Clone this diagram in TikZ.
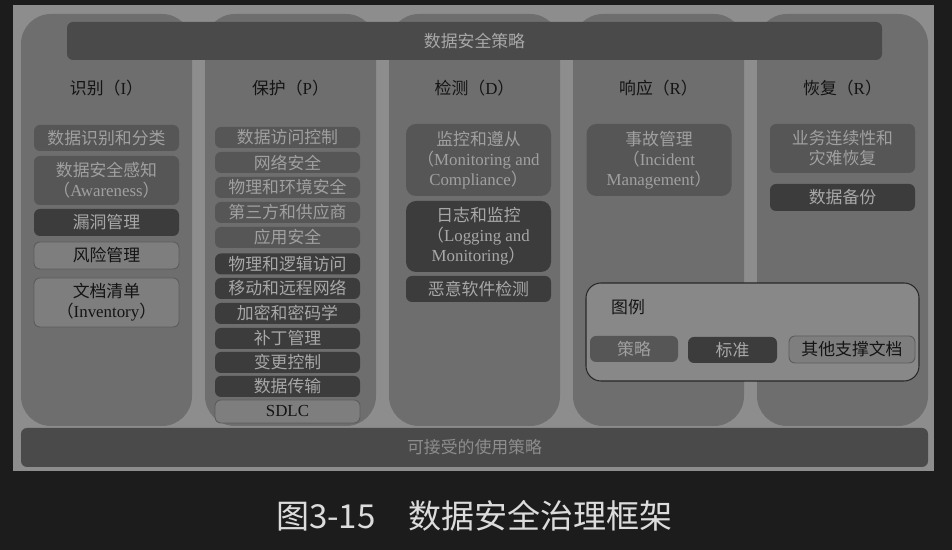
\documentclass[tikz,border=0pt]{standalone}
\usepackage{fontspec}
\setmainfont{Noto Sans CJK SC}
\newfontfamily\latin{Liberation Serif}
\usetikzlibrary{positioning}
\definecolor{dgback}{RGB}{28,28,28}
\definecolor{dgpanel}{RGB}{141,141,141}
\definecolor{dgcolumn}{RGB}{110,110,110}
\definecolor{dgbarfill}{RGB}{74,74,74}
\definecolor{dgpolfill}{RGB}{86,86,86}
\definecolor{dgpoltext}{RGB}{160,160,160}
\definecolor{dgstdfill}{RGB}{60,60,60}
\definecolor{dgstdtext}{RGB}{168,168,168}
\definecolor{dgdocfill}{RGB}{126,126,126}
\definecolor{dgdocline}{RGB}{92,92,92}
\definecolor{dgdoctext}{RGB}{20,20,20}
\definecolor{dglegfill}{RGB}{136,136,136}
\definecolor{dglegline}{RGB}{40,40,40}
\definecolor{dgcaption}{RGB}{220,220,220}
\newcommand\dgfont{\fontsize{9.6}{11.4}\selectfont}
\tikzset{
  dgcol/.style   ={rectangle, rounded corners=0.6cm, fill=dgcolumn, inner sep=0pt,
                   minimum width=3.42cm, minimum height=8.24cm},
  dgbar/.style   ={rectangle, rounded corners=0.12cm, fill=dgbarfill, inner sep=0pt,
                   font=\dgfont},
  dghead/.style  ={font=\dgfont, text=dgdoctext},
  dgitem/.style  ={rectangle, rounded corners=0.12cm, inner sep=0pt, align=center,
                   minimum width=2.9cm, font=\dgfont},
  dgpol/.style   ={dgitem, fill=dgpolfill, text=dgpoltext},
  dgstd/.style   ={dgitem, fill=dgstdfill, text=dgstdtext},
  dgdoc/.style   ={dgitem, fill=dgdocfill, draw=dgdocline, line width=0.5pt, text=dgdoctext},
  dgtall/.style  ={rounded corners=0.2cm},
  dgsmall/.style ={minimum height=0.42cm},
  dglegend/.style={rectangle, rounded corners=0.3cm, fill=dglegfill, draw=dglegline,
                   line width=0.6pt, minimum width=6.66cm, minimum height=1.96cm},
  dgcap/.style   ={font=\fontsize{18.8}{22}\selectfont, text=dgcaption},
}
\begin{document}
\begin{tikzpicture}
    \useasboundingbox (0,0) rectangle (19.04,11);
    \fill[dgback] (0,0) rectangle (19.04,11);
    \fill[dgpanel] (0.26,1.58) rectangle (18.68,10.90);
    \node[dgcol] (colI) at (2.13,6.60)  {};
    \node[dgcol] (colP) at (5.81,6.60)  {};
    \node[dgcol] (colD) at (9.49,6.60)  {};
    \node[dgcol] (colR) at (13.17,6.60) {};
    \node[dgcol] (colC) at (16.85,6.60) {};
    \node[dgbar, minimum width=16.30cm, minimum height=0.76cm, text=dgstdtext] (policy) at (9.49,10.18) {数据安全策略};
    \node[dgbar, minimum width=18.14cm, minimum height=0.78cm, text=dgpanel] (usage) at (9.49,2.05) {可接受的使用策略};
    \node[dghead] (headI) at (2.13,9.24)  {识别（{\latin I}）};
    \node[dghead] (headP) at (5.81,9.24)  {保护（{\latin P}）};
    \node[dghead] (headD) at (9.49,9.24)  {检测（{\latin D}）};
    \node[dghead] (headR) at (13.17,9.24) {响应（{\latin R}）};
    \node[dghead] (headC) at (16.85,9.24) {恢复（{\latin R}）};
    \node[dgpol, minimum height=0.52cm] (i1) at (2.13,8.24) {数据识别和分类};
    \node[dgpol, minimum height=0.98cm] (i2) at (2.13,7.39) {数据安全感知\\（{\latin Awareness}）};
    \node[dgstd, minimum height=0.54cm] (i3) at (2.13,6.55) {漏洞管理};
    \node[dgdoc, minimum height=0.54cm] (i4) at (2.13,5.89) {风险管理};
    \node[dgdoc, minimum height=0.98cm] (i5) at (2.13,4.95) {文档清单\\（{\latin Inventory}）};
    \node[dgpol, dgsmall] (p1)  at (5.75,8.25) {数据访问控制};
    \node[dgpol, dgsmall] (p2)  at (5.75,7.75) {网络安全};
    \node[dgpol, dgsmall] (p3)  at (5.75,7.25) {物理和环境安全};
    \node[dgpol, dgsmall] (p4)  at (5.75,6.75) {第三方和供应商};
    \node[dgpol, dgsmall] (p5)  at (5.75,6.25) {应用安全};
    \node[dgstd, dgsmall] (p6)  at (5.75,5.72) {物理和逻辑访问};
    \node[dgstd, dgsmall] (p7)  at (5.75,5.23) {移动和远程网络};
    \node[dgstd, dgsmall] (p8)  at (5.75,4.73) {加密和密码学};
    \node[dgstd, dgsmall] (p9)  at (5.75,4.23) {补丁管理};
    \node[dgstd, dgsmall] (p10) at (5.75,3.75) {变更控制};
    \node[dgstd, dgsmall] (p11) at (5.75,3.27) {数据传输};
    \node[dgdoc, minimum height=0.46cm] (p12) at (5.75,2.77) {\latin SDLC};
    \node[dgpol, dgtall, minimum height=1.44cm] (d1) at (9.57,7.80) {监控和遵从\\（{\latin Monitoring and}\\{\latin Compliance}）};
    \node[dgstd, dgtall, minimum height=1.42cm] (d2) at (9.57,6.27) {日志和监控\\（{\latin Logging and}\\{\latin Monitoring}）};
    \node[dgstd, minimum height=0.52cm] (d3) at (9.57,5.22) {恶意软件检测};
    \node[dgpol, dgtall, minimum height=1.44cm] (r1) at (13.18,7.80) {事故管理\\（{\latin Incident}\\{\latin Management}）};
    \node[dgpol, minimum height=0.98cm] (c1) at (16.85,8.03) {业务连续性和\\灾难恢复};
    \node[dgstd, minimum height=0.54cm] (c2) at (16.85,7.05) {数据备份};
    \node[dglegend] (legend) at (15.05,4.36) {};
    \node[dghead, anchor=west] (legtitle) at (12.10,4.86) {图例};
    \node[dgpol, minimum width=1.76cm, minimum height=0.52cm] (legpol) at (12.68,4.02) {策略};
    \node[dgstd, minimum width=1.78cm, minimum height=0.52cm] (legstd) at (14.65,4.00) {标准};
    \node[dgdoc, minimum width=2.52cm, minimum height=0.54cm] (legdoc) at (17.04,4.01) {其他支撑文档};
    \node[dgcap] (caption) at (9.49,0.68) {图3-15　数据安全治理框架};
\end{tikzpicture}
\end{document}
